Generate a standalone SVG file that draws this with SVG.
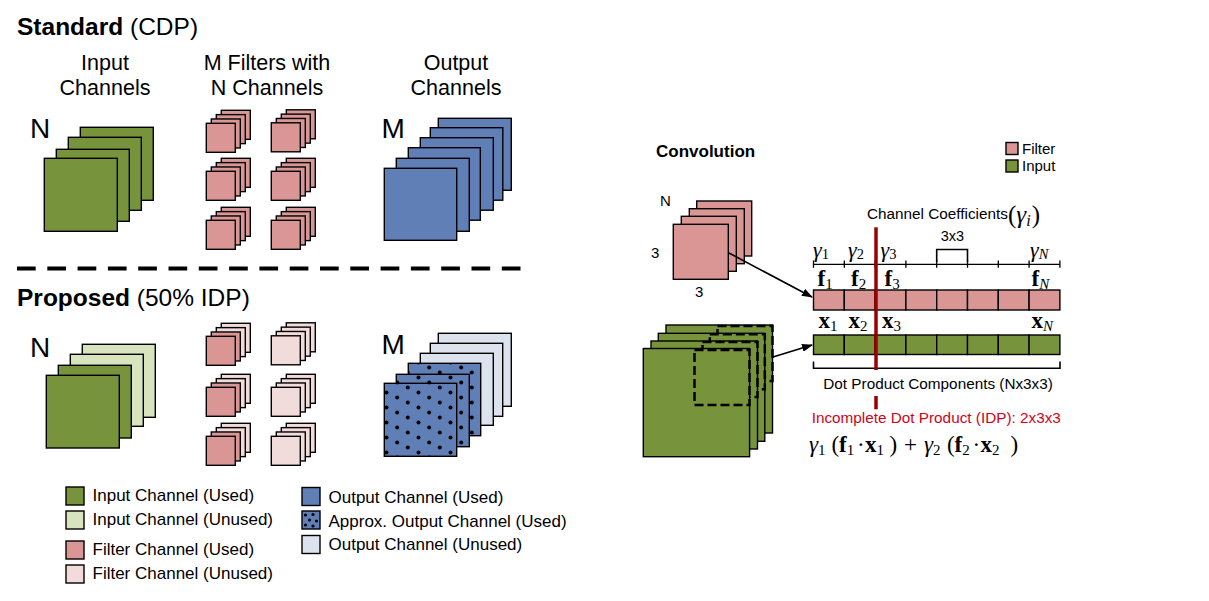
<svg xmlns="http://www.w3.org/2000/svg" width="1209" height="601" viewBox="0 0 1209 601">
<defs>
<style>
.s{stroke:#000;stroke-width:1.4}
.g{fill:#77933C;stroke:#000;stroke-width:1.4}
.lg{fill:#D7E4BD;stroke:#000;stroke-width:1.4}
.p{fill:#D99694;stroke:#000;stroke-width:1.4}
.lp{fill:#F2DCDB;stroke:#000;stroke-width:1.4}
.b{fill:#5F7FB6;stroke:#000;stroke-width:1.4}
.lb{fill:#DCE3EE;stroke:#000;stroke-width:1.4}
.d{fill:url(#dots);stroke:#000;stroke-width:1.4}
.t{font-family:"Liberation Sans",Arial,sans-serif;fill:#000}
.m{font-family:"Liberation Serif","Times New Roman",serif;fill:#000}
.hd{font-size:21.5px;text-anchor:middle}
.lgd{font-size:17px}
.sm{font-size:15.3px}
.win{fill:none;stroke:#000;stroke-width:2.5;stroke-dasharray:9 4}
.conn{stroke:#000;stroke-width:1.6;fill:none}
.red{stroke:#9B0000;stroke-width:3.5}
.dot{fill:#000}
</style>
<pattern id="dots" patternUnits="userSpaceOnUse" width="32" height="15">
<rect width="32" height="15" fill="#5F7FB6"/>
<circle cx="2.5" cy="2.5" r="2" fill="#000"/>
<circle cx="13.2" cy="7.5" r="2" fill="#000"/>
<circle cx="23.8" cy="12.5" r="2" fill="#000"/>
</pattern>
<marker id="ah" markerWidth="11" markerHeight="8" refX="10" refY="4" orient="auto" markerUnits="userSpaceOnUse">
<path d="M0,0 L11,4 L0,8 z" fill="#000"/>
</marker>
<g id="fs">
<rect class="p" x="15" y="-13" width="29" height="29"/>
<rect class="p" x="10" y="-8.67" width="29" height="29"/>
<rect class="p" x="5" y="-4.33" width="29" height="29"/>
<rect class="p" x="0" y="0" width="29" height="29"/>
</g>
<g id="fh">
<rect class="lp" x="15" y="-13" width="29" height="29"/>
<rect class="lp" x="10" y="-8.67" width="29" height="29"/>
<rect class="p" x="5" y="-4.33" width="29" height="29"/>
<rect class="p" x="0" y="0" width="29" height="29"/>
</g>
<g id="fu">
<rect class="lp" x="15" y="-13" width="29" height="29"/>
<rect class="lp" x="10" y="-8.67" width="29" height="29"/>
<rect class="lp" x="5" y="-4.33" width="29" height="29"/>
<rect class="lp" x="0" y="0" width="29" height="29"/>
</g>
</defs>

<rect width="1209" height="601" fill="#fff"/>

<g id="title-standard">
<text class="t" x="17" y="35" font-size="24.5" font-weight="bold">Standard <tspan font-weight="normal">(CDP)</tspan></text>
</g>
<g id="title-proposed">
<text class="t" x="17" y="305.7" font-size="24.5" font-weight="bold">Proposed <tspan font-weight="normal">(50% IDP)</tspan></text>
</g>

<g id="headers">
<text class="t hd" x="105" y="70">Input</text>
<text class="t hd" x="105" y="95">Channels</text>
<text class="t hd" x="267" y="70">M Filters with</text>
<text class="t hd" x="267" y="95">N Channels</text>
<text class="t hd" x="456" y="70">Output</text>
<text class="t hd" x="456" y="95">Channels</text>
</g>

<g id="std-input">
<text class="t" x="30" y="138" font-size="28">N</text>
<rect class="g" x="80.3" y="127.3" width="73" height="73"/>
<rect class="g" x="68.3" y="137.3" width="73" height="73"/>
<rect class="g" x="56.3" y="149.3" width="73" height="72"/>
<rect class="g" x="44.3" y="158.3" width="73" height="73"/>
</g>

<g id="std-filters">
<use href="#fs" x="206.3" y="123.3"/>
<use href="#fs" x="271.3" y="122.8"/>
<use href="#fs" x="206.3" y="171.3"/>
<use href="#fs" x="271.3" y="171.3"/>
<use href="#fs" x="206.3" y="220.3"/>
<use href="#fs" x="271.3" y="220.3"/>
</g>

<g id="std-output">
<text class="t" x="381.5" y="138.3" font-size="28">M</text>
<rect class="b" x="438.3" y="118.3" width="73" height="72"/>
<rect class="b" x="430.3" y="127.7" width="72.5" height="72.5"/>
<rect class="b" x="420.3" y="137.7" width="73" height="72.5"/>
<rect class="b" x="408.3" y="147.7" width="72" height="72.5"/>
<rect class="b" x="396.3" y="158.3" width="73" height="73"/>
<rect class="b" x="384.3" y="168.3" width="72.4" height="72"/>
</g>

<g id="separator">
<line x1="17" y1="268.5" x2="521" y2="268.5" stroke="#000" stroke-width="4" stroke-dasharray="18.7 11.6"/>
</g>

<g id="prop-input">
<text class="t" x="30" y="356.7" font-size="28">N</text>
<rect class="lg" x="82.3" y="344.3" width="73" height="73"/>
<rect class="lg" x="70.3" y="354.3" width="73" height="72"/>
<rect class="g" x="58.3" y="365.3" width="73" height="72.7"/>
<rect class="g" x="46.3" y="375.3" width="73" height="72.7"/>
</g>

<g id="prop-filters">
<use href="#fh" x="206.3" y="336.3"/>
<use href="#fu" x="271.3" y="335.8"/>
<use href="#fh" x="206.3" y="387.3"/>
<use href="#fu" x="271.3" y="387.3"/>
<use href="#fh" x="206.3" y="436.3"/>
<use href="#fu" x="271.3" y="436.3"/>
</g>

<g id="prop-output">
<text class="t" x="381.5" y="354" font-size="28">M</text>
<rect class="lb" x="438.3" y="333.3" width="73" height="73"/>
<rect class="lb" x="430.3" y="343.3" width="72.4" height="73"/>
<rect class="lb" x="420.3" y="353.3" width="73" height="72"/>
<rect class="d" x="408.3" y="363.3" width="72.4" height="72.4"/>
<rect class="d" x="396.3" y="374.3" width="73" height="72.4"/>
<rect class="d" x="384.3" y="383.3" width="72.4" height="73"/>
</g>

<g id="legend">
<rect class="g" x="66" y="487" width="18" height="18"/>
<text class="t lgd" x="92.5" y="501">Input Channel (Used)</text>
<rect class="lg" x="66" y="511" width="18" height="18"/>
<text class="t lgd" x="92.5" y="525">Input Channel (Unused)</text>
<rect class="p" x="66" y="541" width="18" height="18"/>
<text class="t lgd" x="92.5" y="555">Filter Channel (Used)</text>
<rect class="lp" x="66" y="565" width="18" height="18"/>
<text class="t lgd" x="92.5" y="579">Filter Channel (Unused)</text>
<rect class="b" x="302" y="487.5" width="18" height="18"/>
<text class="t lgd" x="328.5" y="503">Output Channel (Used)</text>
<rect class="b" x="302" y="511" width="18" height="18"/>
<circle class="dot" cx="305.5" cy="515" r="1.6"/>
<circle class="dot" cx="313" cy="514.5" r="1.6"/>
<circle class="dot" cx="309.5" cy="520" r="1.6"/>
<circle class="dot" cx="316.5" cy="521" r="1.6"/>
<circle class="dot" cx="305.5" cy="525" r="1.6"/>
<circle class="dot" cx="313" cy="526" r="1.6"/>
<text class="t lgd" x="328.5" y="527">Approx. Output Channel (Used)</text>
<rect class="lb" x="302" y="535.5" width="18" height="18"/>
<text class="t lgd" x="328.5" y="550">Output Channel (Unused)</text>
</g>

<g id="conv-title">
<text class="t" x="656" y="157" font-size="17" font-weight="bold">Convolution</text>
</g>
<g id="conv-legend">
<rect class="p" x="1006" y="142.5" width="12" height="12"/>
<text class="t" x="1022" y="153.5" font-size="15">Filter</text>
<rect class="g" x="1006" y="160" width="12" height="12"/>
<text class="t" x="1022" y="171" font-size="15">Input</text>
</g>

<g id="conv-filter">
<text class="t" x="660" y="206" font-size="15">N</text>
<rect class="p" x="696.7" y="201" width="55" height="55"/>
<rect class="p" x="689.3" y="208.7" width="55" height="55"/>
<rect class="p" x="681.3" y="216.3" width="55" height="55"/>
<rect class="p" x="673.3" y="224.3" width="55" height="55"/>
<text class="t" x="651" y="258" font-size="15">3</text>
<text class="t" x="695" y="296.5" font-size="15">3</text>
</g>

<g id="conv-input">
<rect class="g" x="666" y="325" width="106.5" height="108"/>
<rect class="win" x="717.5" y="326" width="55" height="55"/>
<rect class="g" x="658.3" y="333.3" width="106.5" height="108"/>
<rect class="win" x="709.8" y="334.3" width="55" height="55"/>
<rect class="g" x="651" y="341" width="106.5" height="108"/>
<rect class="win" x="702.5" y="342" width="55" height="55"/>
<rect class="g" x="643.3" y="348.5" width="106.3" height="108.2"/>
<rect class="win" x="694.5" y="350" width="55" height="55"/>
</g>

<g id="coefficients">
<text class="t sm" x="867" y="219.3">Channel Coefficients</text>
<text class="m" x="1008" y="222.5" font-size="25">(<tspan font-style="italic">γ</tspan><tspan font-size="16" font-style="italic" dy="3.5">i</tspan><tspan dy="-3.5" dx="1">)</tspan></text>
<text class="t" x="952.5" y="241" font-size="14.5" text-anchor="middle">3x3</text>
<path class="conn" stroke-width="1.3" d="M936.7,262 V249.5 H967.5 V262"/>
<line x1="813.5" y1="264.3" x2="1060" y2="264.3" stroke="#000" stroke-width="1.3"/>
<path stroke="#000" stroke-width="1.3" d="M813.5,260.5V267.8M844.3,260.5V267.8M875.1,260.5V267.8M905.9,260.5V267.8M936.7,260.5V267.8M967.5,260.5V267.8M998.3,260.5V267.8M1029.1,260.5V267.8M1059.9,260.5V267.8"/>
<text class="m" x="813" y="257" font-size="22" font-style="italic">γ<tspan font-size="14.5" font-style="normal" dy="2">1</tspan></text>
<text class="m" x="848" y="257" font-size="22" font-style="italic">γ<tspan font-size="14.5" font-style="normal" dy="2">2</tspan></text>
<text class="m" x="880.5" y="257" font-size="22" font-style="italic">γ<tspan font-size="14.5" font-style="normal" dy="2">3</tspan></text>
<text class="m" x="1030" y="257" font-size="22" font-style="italic">γ<tspan font-size="14.5" dy="2">N</tspan></text>
<text class="m" x="817.5" y="286" font-size="23" font-weight="bold">f<tspan font-size="15" font-weight="normal" dy="2.5">1</tspan></text>
<text class="m" x="851" y="286" font-size="23" font-weight="bold">f<tspan font-size="15" font-weight="normal" dy="2.5">2</tspan></text>
<text class="m" x="884.5" y="286" font-size="23" font-weight="bold">f<tspan font-size="15" font-weight="normal" dy="2.5">3</tspan></text>
<text class="m" x="1031.5" y="286" font-size="23" font-weight="bold">f<tspan font-size="15" font-weight="normal" font-style="italic" dy="2.5">N</tspan></text>
</g>

<g id="filter-bar">
<rect class="p" x="813.5" y="290" width="30.8" height="20"/>
<rect class="p" x="844.3" y="290" width="30.8" height="20"/>
<rect class="p" x="875.1" y="290" width="30.8" height="20"/>
<rect class="p" x="905.9" y="290" width="30.8" height="20"/>
<rect class="p" x="936.7" y="290" width="30.8" height="20"/>
<rect class="p" x="967.5" y="290" width="30.8" height="20"/>
<rect class="p" x="998.3" y="290" width="30.8" height="20"/>
<rect class="p" x="1029.1" y="290" width="30.8" height="20"/>
</g>

<g id="x-labels">
<text class="m" x="818.5" y="328.3" font-size="23" font-weight="bold">x<tspan font-size="15" font-weight="normal" dy="2.5">1</tspan></text>
<text class="m" x="848.5" y="328.3" font-size="23" font-weight="bold">x<tspan font-size="15" font-weight="normal" dy="2.5">2</tspan></text>
<text class="m" x="882" y="328.3" font-size="23" font-weight="bold">x<tspan font-size="15" font-weight="normal" dy="2.5">3</tspan></text>
<text class="m" x="1031.5" y="328.3" font-size="23" font-weight="bold">x<tspan font-size="15" font-weight="normal" font-style="italic" dy="2.5">N</tspan></text>
</g>

<g id="input-bar">
<rect class="g" x="813.5" y="335" width="30.8" height="19.5"/>
<rect class="g" x="844.3" y="335" width="30.8" height="19.5"/>
<rect class="g" x="875.1" y="335" width="30.8" height="19.5"/>
<rect class="g" x="905.9" y="335" width="30.8" height="19.5"/>
<rect class="g" x="936.7" y="335" width="30.8" height="19.5"/>
<rect class="g" x="967.5" y="335" width="30.8" height="19.5"/>
<rect class="g" x="998.3" y="335" width="30.8" height="19.5"/>
<rect class="g" x="1029.1" y="335" width="30.8" height="19.5"/>
</g>

<g id="dot-product">
<path class="conn" stroke-width="1.3" d="M813.5,361.5 V368.3 H1060 V361.5"/>
<text class="t sm" x="823.3" y="389">Dot Product Components (Nx3x3)</text>
</g>

<g id="idp">
<line class="red" x1="876" y1="227.3" x2="876" y2="370"/>
<line class="red" x1="876" y1="396" x2="876" y2="409.3"/>
<text class="t sm" x="811.7" y="422.7" style="fill:#D0021B">Incomplete Dot Product (IDP): 2x3x3</text>
<text class="m" y="451.7" font-size="23"><tspan x="809" font-style="italic">γ</tspan><tspan font-size="15" dy="3">1</tspan><tspan x="831.5" dy="-3">(</tspan><tspan x="839" font-weight="bold">f</tspan><tspan font-size="15" dy="3">1</tspan><tspan x="857" dy="-3">·</tspan><tspan x="865" font-weight="bold">x</tspan><tspan font-size="15" dy="3">1</tspan><tspan x="889.5" dy="-3">)</tspan><tspan x="904">+</tspan><tspan x="924" font-style="italic">γ</tspan><tspan font-size="15" dy="3">2</tspan><tspan x="947" dy="-3">(</tspan><tspan x="954.5" font-weight="bold">f</tspan><tspan font-size="15" dy="3">2</tspan><tspan x="972.5" dy="-3">·</tspan><tspan x="980.5" font-weight="bold">x</tspan><tspan font-size="15" dy="3">2</tspan><tspan x="1010.5" dy="-3">)</tspan></text>
</g>

<g id="connectors">
<line class="conn" x1="729" y1="253" x2="812" y2="297" marker-end="url(#ah)"/>
<line class="conn" x1="773" y1="357" x2="812" y2="345" marker-end="url(#ah)"/>
</g>
</svg>
